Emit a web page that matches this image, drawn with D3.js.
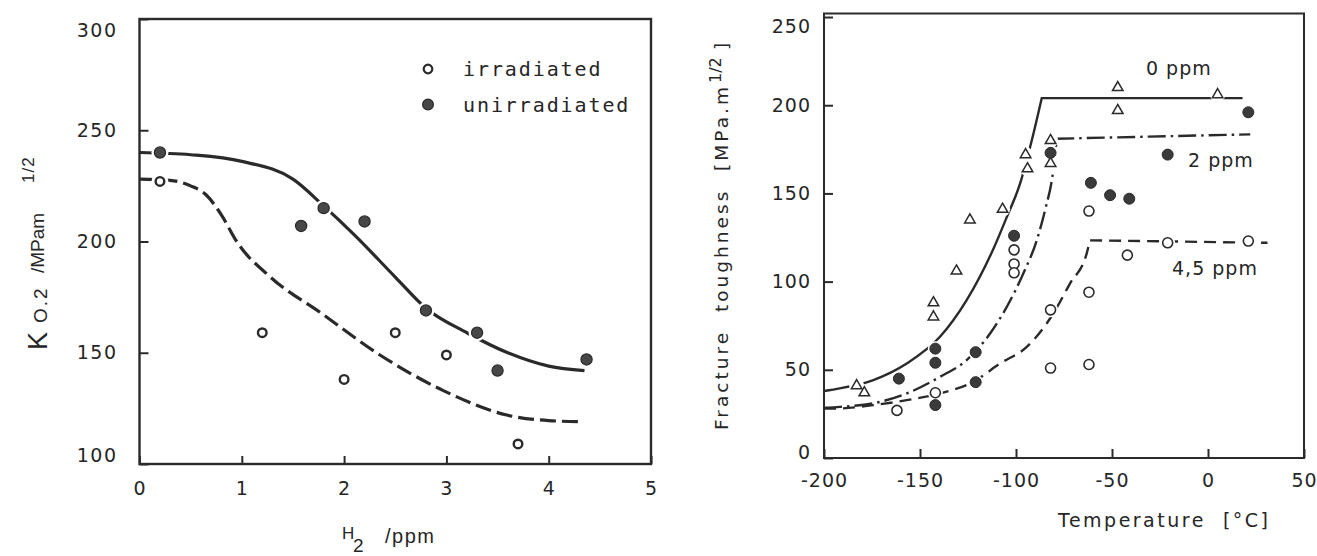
<!DOCTYPE html>
<html>
<head>
<meta charset="utf-8">
<script src="https://cdn.jsdelivr.net/npm/d3@7"></script>
<style>
  html, body { margin: 0; padding: 0; background: #fff; }
  svg { display: block; }
  text { fill: #262626; white-space: pre; }
</style>
</head>
<body>
<svg id="chart" width="1317" height="556"></svg>
<script>
// ---------- left panel: K0.2 against hydrogen content ----------
const h2Irradiated   = [0.2, 1.2, 2.0, 2.5, 3.0, 3.7];
const kIrradiated    = [227, 159, 138, 159, 149, 109];
const h2Unirradiated = [0.2, 1.58, 1.8, 2.2, 2.8, 3.3, 3.5, 4.37];
const kUnirradiated  = [240, 207, 215, 209, 169, 159, 142, 147];
// fitted trends
const fitIrrH2   = [0, 0.3, 0.5, 0.65, 0.8, 0.95, 1.28, 1.77, 2.35, 2.97, 3.59, 4.0, 4.33];
const fitIrrK    = [228, 227.5, 225, 221, 212, 200, 184, 168, 149, 133, 122, 119.5, 119];
const fitUnirrH2 = [0, 0.5, 1.0, 1.5, 1.8, 2.1, 2.5, 2.8, 3.2, 3.6, 4.0, 4.35];
const fitUnirrK  = [240, 239, 236, 228, 216, 203, 184, 170, 159, 150, 144, 142];
const leftXTicks = [0, 1, 2, 3, 4, 5];
const leftYTicks = [100, 150, 200, 250, 300];
const legendLabels = ["irradiated", "unirradiated"];

// ---------- right panel: fracture toughness against temperature ----------
const temp0ppm  = [-183, -179, -143, -143, -131, -124, -107, -95, -94, -82, -82, -47, -47, 5];
const kc0ppm    = [41, 37, 88, 80, 106, 135, 141, 172, 164, 180, 167, 210, 197, 206];
const temp2ppm  = [-161, -142, -142, -142, -121, -121, -101, -82, -61, -51, -41, -21, 21];
const kc2ppm    = [45, 62, 54, 30, 60, 43, 126, 173, 156, 149, 147, 172, 196];
const temp45ppm = [-162, -142, -101, -101, -101, -82, -82, -62, -62, -62, -42, -21, 21];
const kc45ppm   = [27, 37, 118, 110, 105, 84, 51, 140, 94, 53, 115, 122, 123];
// transition branches and upper shelves of the trend lines
const trans0Temp  = [-200, -191.7, -174.3, -156.9, -139.6, -125.7, -111.8, -104.8, -97.9, -91.8, -86.6];
const trans0Kc    = [38, 39.5, 44.2, 53.6, 68.7, 89.5, 118.5, 136.6, 155.5, 180, 204];
const shelf0Temp  = [-86.6, 18];
const shelf0Kc    = [204, 204];
const trans2Temp  = [-200, -191.7, -174.3, -156.9, -139.6, -125.7, -113.5, -96.2, -89.2, -84.9, -80.6, -78.8];
const trans2Kc    = [28.5, 29, 31, 36.6, 46, 55.5, 70.6, 104.6, 123.4, 140.4, 163, 181];
const shelf2Temp  = [-78.8, 22];
const shelf2Kc    = [181, 183.5];
const trans45Temp = [-200, -191.7, -174.3, -156.9, -139.6, -122.2, -108.3, -94.4, -80.6, -71.9, -63.2, -61.5];
const trans45Kc   = [28, 28.1, 30, 32.8, 36.6, 43.2, 53.6, 63, 81.9, 98.9, 115.9, 123.4];
const shelf45Temp = [-61.5, 31];
const shelf45Kc   = [123.4, 122];
const rightXTicks = [-200, -150, -100, -50, 0, 50];
const rightYTicks = [0, 50, 100, 150, 200, 250];
const curveLabels = ["0 ppm", "2 ppm", "4,5 ppm"];
const curveLabelTemp = [-32.3, -10.4, -18.75];
const curveLabelKc   = [217.4, 164.8, 103.6];

// ---------- drawing ----------
const ink = "#2a2a2a";
const svg = d3.select("#chart");
const tickFont = "'DejaVu Sans', sans-serif";
const helv = "'Liberation Sans', Arial, sans-serif";

function styleAxis(g, fontSize, spacing) {
  g.select(".domain").remove();
  g.selectAll(".tick line").attr("stroke", ink).attr("stroke-width", 2);
  g.selectAll(".tick text")
    .attr("fill", "#262626")
    .style("font-family", tickFont)
    .style("font-size", fontSize + "px")
    .style("letter-spacing", spacing + "px");
}
// keep end labels of a vertical axis inside the frame
function insetLabels(g, scale, lo, hi) {
  g.selectAll(".tick text").attr("y", d => {
    const p = scale(d);
    return Math.max(lo, Math.min(hi, p)) - p;
  });
}
function halo(g, pts, r) {
  g.selectAll(null).data(pts).join("circle")
    .attr("cx", d => d[0]).attr("cy", d => d[1]).attr("r", r).attr("fill", "#fff");
}
// rotated text piece: baseline at screen x = bx, starting at screen y = sy, reading upward
function vText(g, bx, sy, str, size, family, spacing) {
  return g.append("text")
    .attr("transform", `translate(${bx},${sy}) rotate(-90)`)
    .style("font-family", family).style("font-size", size + "px")
    .style("letter-spacing", (spacing || 0) + "px")
    .text(str);
}

// ===== left panel =====
const xL = d3.scaleLinear().domain([0, 5]).range([139.5, 651]);
const yL = d3.scaleLinear().domain([100, 300]).range([464, 19]);
const left = svg.append("g");

const lineL = d3.line().curve(d3.curveMonotoneX).x(d => xL(d[0])).y(d => yL(d[1]));
left.append("path")
  .attr("d", lineL(d3.zip(fitUnirrH2, fitUnirrK)))
  .attr("fill", "none").attr("stroke", ink).attr("stroke-width", 3.2);
left.append("path")
  .attr("d", lineL(d3.zip(fitIrrH2, fitIrrK)))
  .attr("fill", "none").attr("stroke", ink).attr("stroke-width", 3.2)
  .attr("stroke-dasharray", "16 6");

const ptsIrr = d3.zip(h2Irradiated, kIrradiated).map(d => [xL(d[0]), yL(d[1])]);
const ptsUnirr = d3.zip(h2Unirradiated, kUnirradiated).map(d => [xL(d[0]), yL(d[1])]);
halo(left, ptsIrr.concat(ptsUnirr), 8.5);
left.selectAll(".irr").data(ptsIrr).join("circle")
  .attr("cx", d => d[0]).attr("cy", d => d[1]).attr("r", 4.3)
  .attr("fill", "#fff").attr("stroke", ink).attr("stroke-width", 2.4);
left.selectAll(".unirr").data(ptsUnirr).join("circle")
  .attr("cx", d => d[0]).attr("cy", d => d[1]).attr("r", 5.6)
  .attr("fill", "#474747").attr("stroke", "#2a2a2a").attr("stroke-width", 1.2);

left.append("rect")
  .attr("x", xL(0)).attr("y", yL(300))
  .attr("width", xL(5) - xL(0)).attr("height", yL(100) - yL(300))
  .attr("fill", "none").attr("stroke", ink).attr("stroke-width", 2.4);

const gLx = left.append("g").attr("transform", `translate(0,${yL(100)})`)
  .call(d3.axisBottom(xL).tickValues(leftXTicks).tickSize(-8).tickPadding(18).tickFormat(d3.format("d")));
styleAxis(gLx, 19, 1);
const gLy = left.append("g").attr("transform", `translate(${xL(0)},0)`)
  .call(d3.axisLeft(yL).tickValues(leftYTicks).tickSize(-9).tickPadding(22).tickFormat(d3.format("d")));
styleAxis(gLy, 19, 1.5);
insetLabels(gLy, yL, yL(300) + 11, yL(100) - 9);

// legend
const legend = left.append("g").attr("transform", "translate(428,69)");
legend.append("circle").attr("cx", 0).attr("cy", 0).attr("r", 4.3)
  .attr("fill", "#fff").attr("stroke", ink).attr("stroke-width", 2.2);
legend.append("circle").attr("cx", 0).attr("cy", 35.5).attr("r", 5.4)
  .attr("fill", "#474747").attr("stroke", "#2a2a2a").attr("stroke-width", 1.2);
legend.selectAll("text").data(legendLabels).join("text")
  .attr("x", 35).attr("y", (d, i) => 7 + i * 35.5)
  .style("font-family", "'DejaVu Sans Mono', monospace")
  .style("font-size", "20px").style("letter-spacing", "1.9px")
  .text(d => d);

// axis titles
left.append("text").attr("x", 342).attr("y", 539)
  .style("font-family", helv).style("font-size", "17px").text("H");
left.append("text").attr("x", 353).attr("y", 552)
  .style("font-family", helv).style("font-size", "19px").text("2");
left.append("text").attr("x", 385).attr("y", 543)
  .style("font-family", helv).style("font-size", "20px").style("letter-spacing", "1.5px").text("/ppm");

vText(left, 47, 350, "K", 27, helv);
vText(left, 47, 323, "O.2", 19, helv, 2);
vText(left, 43.5, 273, "/MPam", 19, helv);
vText(left, 33.5, 183, "1/2", 17, helv, 1);

// ===== right panel =====
const xR = d3.scaleLinear().domain([-200, 50]).range([824, 1304]);
const yR = d3.scaleLinear().domain([0, 252]).range([458, 13.5]);
const right = svg.append("g");

function trendPath(tT, tK, sT, sK) {
  const rise = d3.line().curve(d3.curveMonotoneX).x(d => xR(d[0])).y(d => yR(d[1]))(d3.zip(tT, tK));
  const shelf = d3.line().x(d => xR(d[0])).y(d => yR(d[1]))(d3.zip(sT, sK));
  return rise + shelf.replace(/^M/, "L");
}
right.append("path").attr("d", trendPath(trans0Temp, trans0Kc, shelf0Temp, shelf0Kc))
  .attr("fill", "none").attr("stroke", ink).attr("stroke-width", 2.4);
right.append("path").attr("d", trendPath(trans2Temp, trans2Kc, shelf2Temp, shelf2Kc))
  .attr("fill", "none").attr("stroke", ink).attr("stroke-width", 2.4)
  .attr("stroke-dasharray", "18 5 2.5 5");
right.append("path").attr("d", trendPath(trans45Temp, trans45Kc, shelf45Temp, shelf45Kc))
  .attr("fill", "none").attr("stroke", ink).attr("stroke-width", 2.4)
  .attr("stroke-dasharray", "12 7");

const pts0 = d3.zip(temp0ppm, kc0ppm).map(d => [xR(d[0]), yR(d[1])]);
const pts2 = d3.zip(temp2ppm, kc2ppm).map(d => [xR(d[0]), yR(d[1])]);
const pts45 = d3.zip(temp45ppm, kc45ppm).map(d => [xR(d[0]), yR(d[1])]);
halo(right, pts0.concat(pts2, pts45), 7.5);

const tri = d3.symbol().type(d3.symbolTriangle).size(48);
right.selectAll(".tri").data(pts0).join("path")
  .attr("d", tri).attr("transform", d => `translate(${d[0]},${d[1]})`)
  .attr("fill", "#fff").attr("stroke", ink).attr("stroke-width", 1.5);
right.selectAll(".dot").data(pts2).join("circle")
  .attr("cx", d => d[0]).attr("cy", d => d[1]).attr("r", 5.5)
  .attr("fill", "#3a3a3a").attr("stroke", "#2a2a2a").attr("stroke-width", 1);
right.selectAll(".ring").data(pts45).join("circle")
  .attr("cx", d => d[0]).attr("cy", d => d[1]).attr("r", 5)
  .attr("fill", "#fff").attr("stroke", ink).attr("stroke-width", 1.6);

right.append("rect")
  .attr("x", xR(-200)).attr("y", yR(252))
  .attr("width", xR(50) - xR(-200)).attr("height", yR(0) - yR(252))
  .attr("fill", "none").attr("stroke", ink).attr("stroke-width", 2);

const gRx = right.append("g").attr("transform", `translate(0,${yR(0)})`)
  .call(d3.axisBottom(xR).tickValues(rightXTicks).tickSize(-9).tickPadding(16)
    .tickFormat(d => d < 0 ? "-" + Math.abs(d) : String(d)));
styleAxis(gRx, 19, 1);
const gRy = right.append("g").attr("transform", `translate(${xR(-200)},0)`)
  .call(d3.axisLeft(yR).tickValues(rightYTicks).tickSize(-9).tickPadding(13).tickFormat(d3.format("d")));
styleAxis(gRy, 19, 1);
insetLabels(gRy, yR, yR(252) + 13, yR(0) - 6);

// curve labels
right.selectAll(".clabel").data(curveLabels).join("text")
  .attr("x", (d, i) => xR(curveLabelTemp[i])).attr("y", (d, i) => yR(curveLabelKc[i]))
  .style("font-family", tickFont).style("font-size", "19px").style("letter-spacing", "1px")
  .text(d => d);

// axis titles
right.append("text").attr("x", 1058).attr("y", 527)
  .attr("textLength", 210).attr("lengthAdjust", "spacing")
  .style("font-family", tickFont).style("font-size", "19px")
  .text("Temperature  [°C]");

vText(right, 728, 430, "Fracture  toughness  [MPa.m", 18.5, tickFont)
  .attr("textLength", 343).attr("lengthAdjust", "spacing");
vText(right, 721, 83, "1/2", 16, tickFont);
vText(right, 728, 50, "]", 18.5, tickFont);
</script>
</body>
</html>
